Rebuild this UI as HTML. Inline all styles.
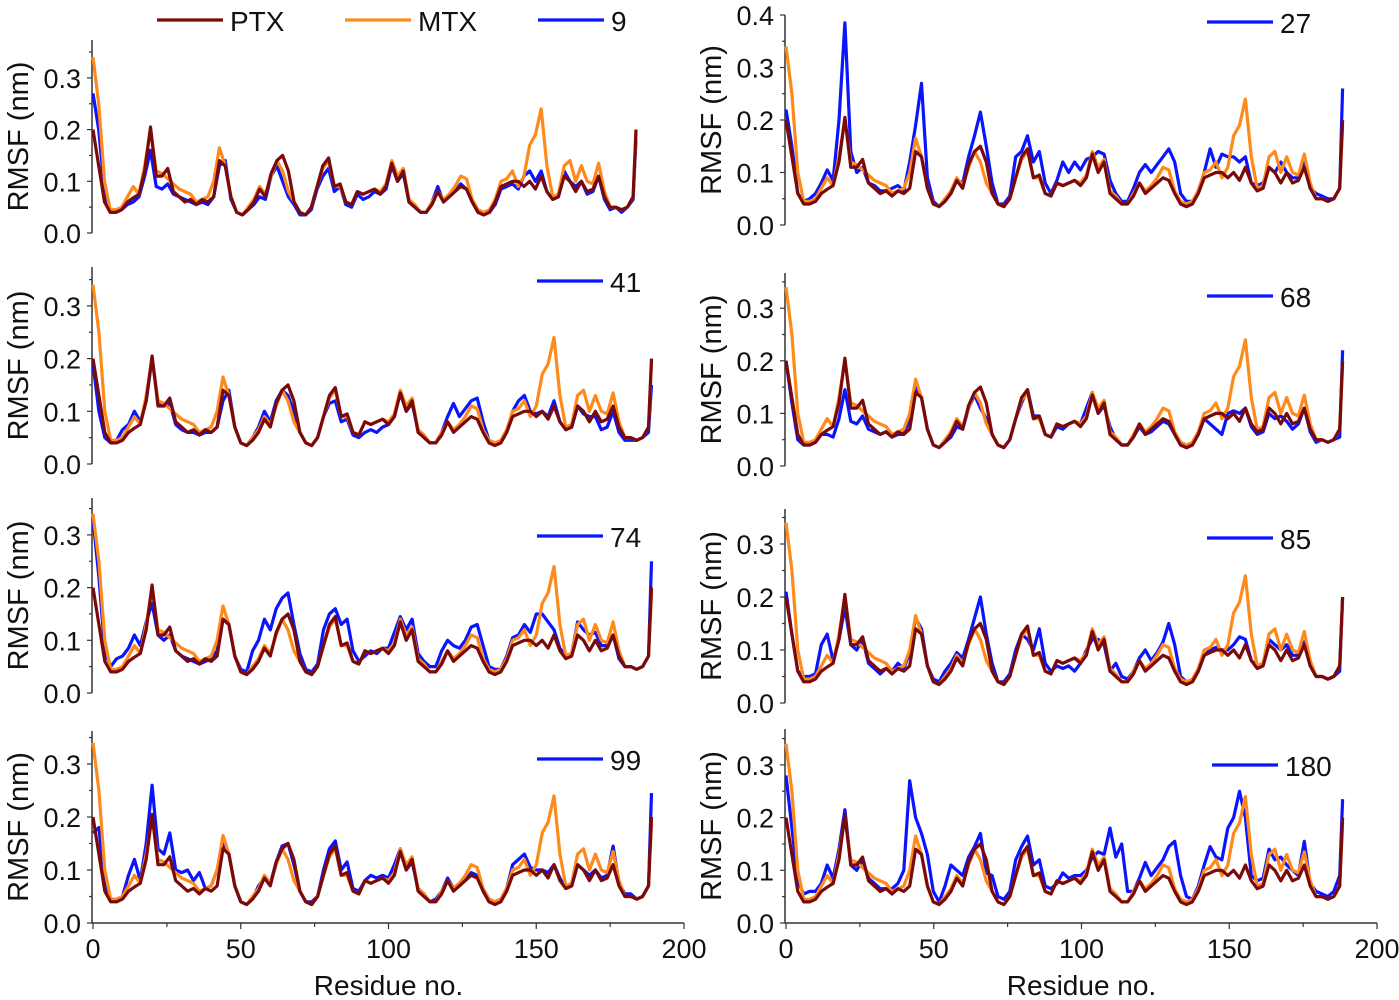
<!DOCTYPE html>
<html><head><meta charset="utf-8"><style>
html,body{margin:0;padding:0;background:#fff;}
svg{display:block;font-family:"Liberation Sans",sans-serif;}
</style></head><body>
<svg id="chart" width="1399" height="1000" viewBox="0 0 1399 1000" xmlns="http://www.w3.org/2000/svg"></svg>
<script>
const residues=[0,2,4,6,8,10,12,14,16,18,20,22,24,26,28,30,32,34,36,38,40,42,44,46,48,50,52,54,56,58,60,62,64,66,68,70,72,74,76,78,80,82,84,86,88,90,92,94,96,98,100,102,104,106,108,110,112,114,116,118,120,122,124,126,128,130,132,134,136,138,140,142,144,146,148,150,152,154,156,158,160,162,164,166,168,170,172,174,176,178,180,182,184,186,188,189];
const ptx=[.20,.13,.06,.04,.04,.045,.06,.068,.075,.12,.205,.11,.11,.125,.08,.07,.06,.065,.055,.065,.06,.07,.14,.13,.07,.04,.035,.045,.06,.085,.07,.115,.14,.15,.12,.06,.04,.035,.05,.09,.13,.145,.09,.095,.06,.055,.08,.075,.08,.085,.075,.09,.135,.10,.12,.06,.05,.04,.04,.055,.08,.06,.07,.08,.09,.085,.06,.04,.035,.04,.06,.09,.095,.1,.1,.09,.1,.085,.11,.08,.065,.07,.11,.1,.08,.1,.08,.085,.11,.07,.05,.05,.045,.05,.07,.2];
const mtx=[.34,.25,.1,.045,.045,.05,.07,.09,.075,.13,.2,.12,.115,.105,.095,.085,.08,.075,.06,.065,.07,.1,.165,.13,.07,.04,.035,.05,.065,.09,.075,.11,.14,.12,.08,.06,.04,.035,.05,.09,.125,.14,.09,.09,.06,.055,.08,.075,.08,.085,.08,.095,.14,.11,.125,.065,.055,.04,.04,.06,.08,.065,.075,.09,.11,.105,.065,.045,.04,.045,.065,.1,.105,.12,.09,.11,.17,.19,.24,.13,.07,.075,.13,.14,.1,.13,.1,.095,.135,.08,.05,.05,.045,.05,.07,.19];
const c9=[.27,.2,.08,.04,.04,.045,.055,.06,.07,.11,.16,.09,.085,.095,.075,.07,.065,.06,.055,.06,.055,.07,.13,.14,.065,.04,.035,.045,.055,.07,.065,.11,.13,.10,.07,.055,.035,.035,.045,.085,.11,.125,.08,.09,.055,.05,.075,.065,.07,.08,.075,.085,.13,.1,.115,.06,.05,.04,.04,.06,.09,.06,.075,.08,.095,.085,.06,.04,.035,.04,.055,.085,.09,.095,.085,.11,.12,.1,.12,.08,.065,.07,.12,.1,.09,.1,.075,.08,.11,.065,.045,.05,.04,.05,.065,.18];
const c41=[.19,.1,.05,.04,.045,.065,.075,.1,.08,.12,.2,.12,.11,.115,.075,.065,.06,.06,.055,.06,.06,.07,.12,.14,.07,.04,.035,.05,.07,.1,.08,.12,.14,.13,.1,.06,.04,.035,.05,.09,.115,.12,.08,.085,.055,.05,.06,.065,.06,.07,.075,.09,.135,.1,.115,.065,.05,.04,.04,.06,.09,.115,.09,.105,.12,.125,.08,.045,.04,.04,.06,.1,.12,.13,.1,.095,.1,.09,.12,.08,.065,.07,.11,.095,.09,.09,.065,.07,.1,.06,.045,.045,.045,.05,.06,.15];
const c74=[.33,.22,.08,.05,.065,.07,.085,.11,.09,.135,.17,.11,.1,.11,.08,.07,.065,.06,.055,.06,.065,.08,.14,.13,.07,.045,.04,.08,.1,.14,.12,.16,.18,.19,.13,.075,.045,.04,.055,.12,.15,.16,.13,.14,.08,.06,.07,.08,.075,.085,.085,.115,.145,.12,.14,.075,.06,.05,.05,.08,.1,.09,.085,.1,.125,.13,.09,.05,.045,.045,.07,.105,.11,.13,.115,.15,.15,.135,.12,.085,.07,.075,.135,.12,.11,.115,.09,.09,.11,.065,.05,.05,.045,.05,.07,.25];
const c99=[.17,.18,.07,.045,.04,.05,.09,.12,.08,.15,.26,.14,.13,.17,.1,.095,.1,.08,.095,.065,.07,.1,.15,.13,.07,.04,.035,.045,.07,.085,.075,.115,.145,.15,.11,.06,.04,.04,.05,.1,.14,.155,.1,.115,.065,.06,.08,.09,.085,.09,.085,.11,.14,.1,.115,.065,.055,.04,.045,.06,.085,.065,.075,.08,.095,.09,.065,.045,.04,.045,.065,.11,.12,.13,.105,.1,.1,.095,.11,.085,.065,.07,.11,.1,.09,.1,.085,.09,.145,.075,.055,.055,.045,.05,.07,.245];
const c27=[.22,.15,.06,.045,.05,.06,.08,.105,.085,.2,.385,.14,.1,.11,.08,.075,.065,.065,.07,.075,.065,.12,.19,.27,.09,.045,.035,.05,.06,.085,.08,.13,.17,.215,.15,.08,.04,.04,.055,.13,.14,.17,.12,.14,.08,.06,.085,.12,.1,.12,.105,.125,.13,.14,.135,.085,.06,.045,.045,.07,.1,.115,.1,.115,.13,.145,.12,.06,.045,.045,.065,.1,.145,.11,.135,.13,.13,.12,.13,.08,.075,.08,.11,.1,.12,.1,.09,.09,.125,.07,.06,.055,.05,.05,.07,.26];
const c68=[.2,.12,.05,.04,.04,.045,.06,.06,.055,.09,.145,.085,.08,.095,.07,.065,.06,.065,.055,.06,.06,.09,.15,.13,.07,.04,.035,.045,.055,.075,.07,.11,.135,.11,.09,.06,.04,.035,.05,.09,.12,.145,.095,.095,.06,.055,.075,.07,.08,.085,.08,.11,.14,.1,.115,.075,.05,.04,.04,.055,.075,.06,.065,.075,.085,.08,.06,.04,.035,.04,.06,.09,.08,.07,.06,.1,.105,.1,.11,.075,.06,.065,.1,.09,.095,.085,.07,.08,.11,.065,.045,.05,.045,.05,.055,.22];
const c85=[.21,.13,.06,.05,.05,.055,.11,.13,.08,.12,.18,.11,.1,.12,.075,.065,.055,.065,.06,.075,.065,.095,.16,.14,.07,.045,.04,.06,.075,.095,.085,.12,.16,.2,.13,.075,.04,.04,.055,.1,.13,.12,.1,.14,.075,.06,.07,.065,.07,.06,.075,.1,.12,.12,.11,.06,.075,.05,.045,.06,.085,.1,.08,.095,.115,.15,.11,.05,.04,.04,.06,.09,.1,.105,.1,.1,.11,.125,.12,.08,.07,.075,.12,.11,.1,.11,.09,.09,.115,.07,.05,.05,.045,.05,.06,.2];
const c180=[.28,.18,.08,.055,.06,.06,.075,.11,.085,.14,.215,.11,.1,.12,.085,.075,.065,.065,.065,.075,.1,.27,.2,.17,.13,.06,.04,.07,.11,.1,.09,.125,.145,.17,.095,.09,.05,.045,.06,.12,.145,.165,.11,.12,.07,.065,.075,.095,.085,.09,.09,.1,.125,.135,.13,.18,.125,.15,.06,.06,.085,.115,.09,.105,.12,.145,.155,.09,.05,.045,.07,.11,.145,.125,.12,.18,.2,.25,.2,.09,.08,.085,.14,.12,.125,.11,.1,.09,.155,.075,.06,.055,.05,.06,.09,.235];
const yTicksSmall=["0.0","0.1","0.2","0.3"];
const yTicksLarge=["0.0","0.1","0.2","0.3","0.4"];
const xTicks=["0","50","100","150","200"];

const svg=document.getElementById('chart');
const NS='http://www.w3.org/2000/svg';
function mk(tag,attrs,parent){const e=document.createElementNS(NS,tag);for(const k in attrs)e.setAttribute(k,attrs[k]);(parent||svg).appendChild(e);return e;}

const panels=[
 {id:'9',series:c9,ax:92,x0:93,pxr:2.873,y0:233,py:517,top:40,ticks:yTicksSmall,ymaxMinor:0.35,leg:null},
 {id:'41',series:c41,ax:92,x0:93,pxr:2.955,y0:464,py:527,top:267,ticks:yTicksSmall,ymaxMinor:0.35,leg:[537,281]},
 {id:'74',series:c74,ax:92,x0:93,pxr:2.955,y0:693,py:527,top:498,ticks:yTicksSmall,ymaxMinor:0.35,leg:[537,536]},
 {id:'99',series:c99,ax:92,x0:93,pxr:2.955,y0:923,py:530,top:731,ticks:yTicksSmall,ymaxMinor:0.35,leg:[537,759],xaxis:true},
 {id:'27',series:c27,ax:785,x0:786,pxr:2.945,y0:225,py:525,top:15,ticks:yTicksLarge,ymaxMinor:0.4,leg:[1207,22]},
 {id:'68',series:c68,ax:785,x0:786,pxr:2.945,y0:466,py:526,top:273,ticks:yTicksSmall,ymaxMinor:0.35,leg:[1207,296]},
 {id:'85',series:c85,ax:785,x0:786,pxr:2.945,y0:703,py:530,top:509,ticks:yTicksSmall,ymaxMinor:0.35,leg:[1207,538]},
 {id:'180',series:c180,ax:785,x0:786,pxr:2.945,y0:923,py:527,top:729,ticks:yTicksSmall,ymaxMinor:0.35,leg:[1212,765],xaxis:true}
];

panels.forEach(p=>{
 const g=mk('g',{});
 
 
 const X=r=>p.x0+r*p.pxr, Y=v=>p.y0-v*p.py;
 const axis=mk('line',{x1:p.ax,y1:p.top,x2:p.ax,y2:p.y0,stroke:'#333','stroke-width':1.5},g);
 
 
 for(let i=0;i*0.05<=p.ymaxMinor+1e-9;i++){
  const v=i*0.05,maj=i%2===0;
  mk('line',{x1:p.ax-(maj?5:3),y1:Y(v),x2:p.ax,y2:Y(v),stroke:'#333','stroke-width':1.2},g);
 }
 p.ticks.forEach((t,i)=>{
  const tl=mk('text',{x:p.ax-11,y:Y(i*0.1)+10,'text-anchor':'end','font-size':27,fill:'#111'},g);
  tl.textContent=t;
  
  
 });
 const mid=(p.top+p.y0)/2;
 const yt=mk('text',{x:p.ax-64,y:mid,'text-anchor':'middle','font-size':29,fill:'#111',transform:`rotate(-90 ${p.ax-64} ${mid})`},g);
 yt.textContent='RMSF (nm)';
 
 
 if(p.xaxis){
  const xa=mk('line',{x1:p.ax,y1:p.y0,x2:p.x0+200*2.955,y2:p.y0,stroke:'#333','stroke-width':1.5},g);
  
  
  const sx=r=>p.x0+r*2.955;
  for(let r=0;r<=200;r+=25){mk('line',{x1:sx(r),y1:p.y0,x2:sx(r),y2:p.y0+(r%50===0?6:4),stroke:'#333','stroke-width':1.2},g);}
  xTicks.forEach(t=>{
   const tl=mk('text',{x:sx(+t),y:p.y0+35,'text-anchor':'middle','font-size':27,fill:'#111'},g);
   tl.textContent=t;
   
   
  });
  const xt=mk('text',{x:sx(100),y:p.y0+72,'text-anchor':'middle','font-size':28,fill:'#111'},g);
  xt.textContent='Residue no.';
  
  
 }
 const line=(arr,col,name)=>{
  const d=arr.map((v,i)=>(i?'L':'M')+X(residues[i]).toFixed(1)+','+Y(v).toFixed(1)).join('');
  const l=mk('path',{d:d,fill:'none',stroke:col,'stroke-width':3.2,'stroke-linejoin':'round'},g);
  
  
 };
 line(p.series,'#0a14ff','line-'+p.id);
 line(mtx,'#ff8a1c','line-mtx');
 line(ptx,'#7a0a0a','line-ptx');
 if(p.leg){
  const ll=mk('line',{x1:p.leg[0],y1:p.leg[1],x2:p.leg[0]+66,y2:p.leg[1],stroke:'#0a14ff','stroke-width':3.2},g);
  
  
  const lt=mk('text',{x:p.leg[0]+73,y:p.leg[1]+11,'font-size':28,fill:'#111'},g);
  lt.textContent=p.id;
  
  
 }
});
const legendItems=[['PTX','#7a0a0a',157],['MTX','#ff8a1c',345],['9','#0a14ff',538]];
legendItems.forEach(it=>{
 const l=mk('line',{x1:it[2],y1:20,x2:it[2]+66,y2:20,stroke:it[1],'stroke-width':3.2});
 
 
 const t=mk('text',{x:it[2]+73,y:31,'font-size':28,fill:'#111'});
 t.textContent=it[0];
 
 
});
</script>
</body></html>
